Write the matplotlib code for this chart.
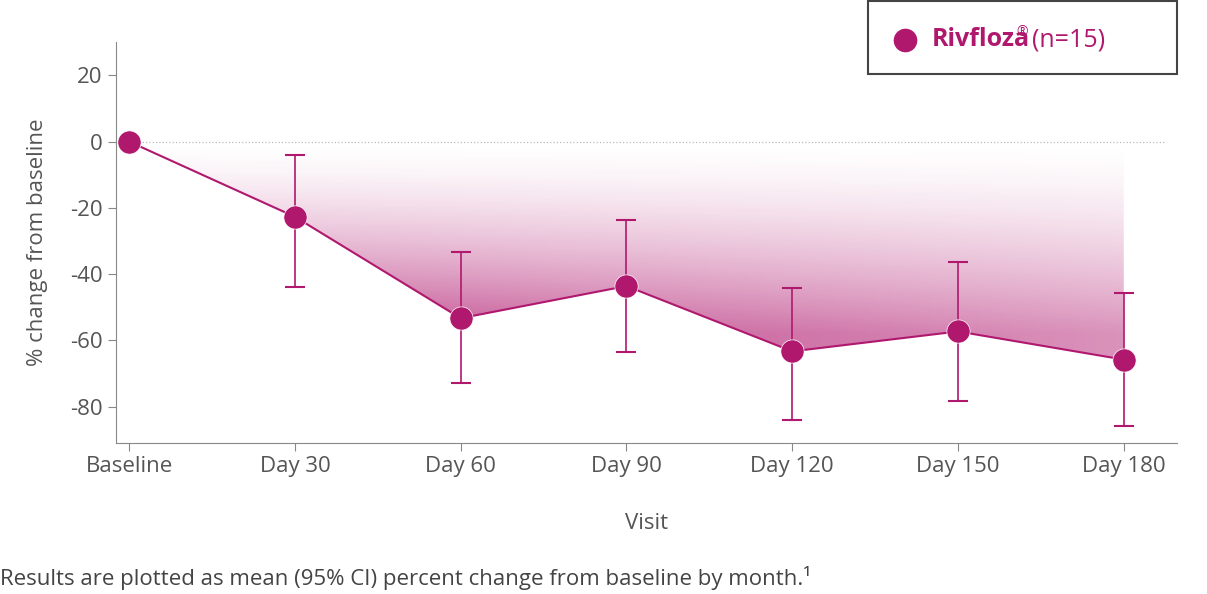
import numpy as np
import matplotlib
matplotlib.use("Agg")
import matplotlib.pyplot as plt
from matplotlib.patches import Polygon, Rectangle
from matplotlib.lines import Line2D

plt.rcParams['font.family'] = ['Open Sans', 'Noto Sans', 'DejaVu Sans']
plt.rcParams['axes.unicode_minus'] = False

visits = ["Baseline", "Day 30", "Day 60", "Day 90", "Day 120", "Day 150", "Day 180"]
mean_change = [0, -22.7, -53.3, -43.6, -63.3, -57.3, -65.8]
ci_upper = [None, -3.9, -33.3, -23.6, -44.2, -36.4, -45.8]
ci_lower = [None, -43.9, -73.0, -63.6, -83.9, -78.2, -85.8]

color = "#B0186E"
x = np.arange(len(visits))

fig = plt.figure(figsize=(12.07, 5.94), dpi=100)
ax = fig.add_axes([0.096, 0.254, 0.879, 0.675])
ax.set_xlim(-0.08, 6.32)
ax.set_ylim(-91, 30)

# gradient fill between 0 and the line
xs = np.linspace(-0.08, 6.32, 600)
ys = np.linspace(-91, 30, 400)
X, Y = np.meshgrid(xs, ys)
alpha = np.clip(-Y / 58, 0, 1) ** 1.5 * (1 - 0.45 * np.clip(X / 6, 0, 1)) * 0.85
rgba = np.zeros(X.shape + (4,))
rgba[..., 0], rgba[..., 1], rgba[..., 2] = 0.69, 0.09, 0.43
rgba[..., 3] = alpha
im = ax.imshow(rgba, extent=(-0.08, 6.32, -91, 30), origin="lower", aspect="auto", zorder=1)
poly = Polygon(list(zip(x, mean_change)) + [(x[-1], 0)], closed=True, transform=ax.transData)
im.set_clip_path(poly)

ax.plot([0, 6.25], [0, 0], ls=":", color="#bbbbbb", lw=0.9, zorder=2)

ax.plot(x, mean_change, color=color, lw=1.5, zorder=3)
for i in range(1, len(x)):
    ax.errorbar(x[i], mean_change[i],
                yerr=[[mean_change[i] - ci_lower[i]], [ci_upper[i] - mean_change[i]]],
                fmt="none", ecolor=color, elinewidth=1.2, capsize=7, capthick=1.5, zorder=3)
ax.scatter(x, mean_change, s=280, color=color, zorder=4, edgecolor="white", linewidth=0.5)

ax.set_xticks(x)
ax.set_xticklabels(visits)
ax.set_yticks([20, 0, -20, -40, -60, -80])
ax.tick_params(labelsize=16, colors="#555555", length=6, color="#888888")
for s in ["top", "right"]:
    ax.spines[s].set_visible(False)
for s in ["left", "bottom"]:
    ax.spines[s].set_color("#888888")
ax.set_xlabel("Visit", fontsize=16, color="#555555", labelpad=26)
ax.set_ylabel("% change from baseline", fontsize=16, color="#555555", labelpad=16)

# legend box
fig.patches.append(Rectangle(
    (868 / 1207, 1 - 74 / 594), 309 / 1207, 73 / 594, transform=fig.transFigure,
    fill=False, edgecolor="#444444", lw=1.5))
fig.lines.append(Line2D([905 / 1207], [1 - 40 / 594], marker="o",
                 markersize=16, color=color, transform=fig.transFigure))
fig.text(932 / 1207, 1 - 40 / 594, "Rivfloza", fontsize=18, fontweight="bold",
         color=color, va="center")
fig.text(1016 / 1207, 1 - 33 / 594, "®", fontsize=10, color=color, va="center")
fig.text(1032 / 1207, 1 - 40 / 594, "(n=15)", fontsize=18, color=color, va="center")

fig.text(0.0, 1 - 578 / 594, "Results are plotted as mean (95% CI) percent change from baseline by month.¹",
         fontsize=16, color="#444444", va="center")

fig.savefig("out.png", dpi=100)
